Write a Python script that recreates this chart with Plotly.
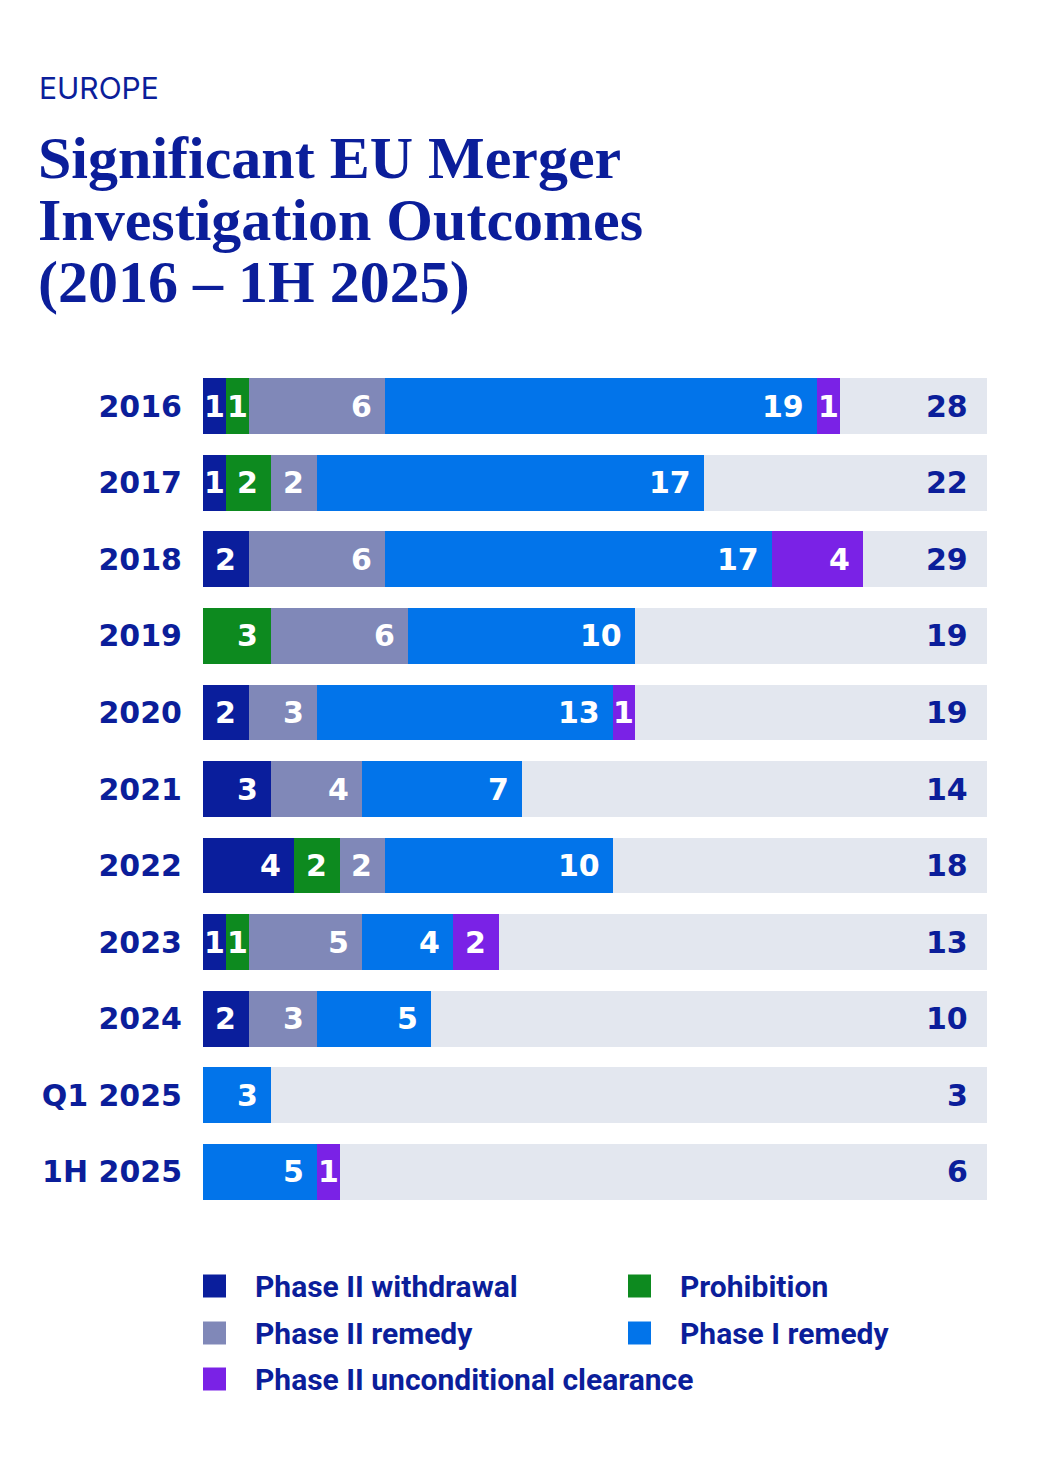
import plotly.graph_objects as go

# ---- data ----
years = ["2016", "2017", "2018", "2019", "2020", "2021", "2022", "2023", "2024", "Q1 2025", "1H 2025"]
series_names = ["Phase II withdrawal", "Prohibition", "Phase II remedy", "Phase I remedy",
                "Phase II unconditional clearance"]
withdrawal = [1, 1, 2, 0, 2, 3, 4, 1, 2, 0, 0]
prohibition = [1, 2, 0, 3, 0, 0, 2, 1, 0, 0, 0]
remedy_p2 = [6, 2, 6, 6, 3, 4, 2, 5, 3, 0, 0]
remedy_p1 = [19, 17, 17, 10, 13, 7, 10, 4, 5, 3, 5]
unconditional = [1, 0, 4, 0, 1, 0, 0, 2, 0, 0, 1]
totals = [28, 22, 29, 19, 19, 14, 18, 13, 10, 3, 6]

# ---- style ----
colors = ["#0a1e9c", "#0d8a1f", "#8088b8", "#0274ea", "#7a22e6"]
BG_GREY = "#e3e7ef"
NAVY = "#0b1e9a"
XMAX = 34.46
W, H = 1053, 1460
OFF = 8  # page body margin
L, R, T, B = 203 - OFF, 1053 - 987 + OFF, 368 - OFF, 1460 - 1210 + OFF
NUMFONT = "DejaVu Sans"
LEGFONT = "Roboto"

series = [withdrawal, prohibition, remedy_p2, remedy_p1, unconditional]
n = len(years)

fig = go.Figure()
for name, vals, col in zip(series_names, series, colors):
    fig.add_trace(go.Bar(
        y=years, x=vals, name=name, orientation="h",
        marker=dict(color=col, line=dict(width=0)),
        hoverinfo="x+name", showlegend=False,
    ))
# grey remainder to the full track width
fig.add_trace(go.Bar(
    y=years, x=[XMAX - t for t in totals], orientation="h",
    marker=dict(color=BG_GREY, line=dict(width=0)), showlegend=False, hoverinfo="skip",
))

annotations = []
# segment value labels (y given as category index)
for i in range(n):
    cum = 0
    for vals in series:
        v = vals[i]
        if v > 0:
            end = cum + v
            if v == 1:
                annotations.append(dict(x=cum + v / 2, y=i, xref="x", yref="y", text=str(v),
                                        showarrow=False, xanchor="center",
                                        font=dict(family=NUMFONT, size=30, color="white", weight="bold")))
            else:
                annotations.append(dict(x=end, y=i, xref="x", yref="y", text=str(v),
                                        showarrow=False, xanchor="right", xshift=-11,
                                        font=dict(family=NUMFONT, size=30, color="white", weight="bold")))
        cum += v
    annotations.append(dict(x=XMAX, y=i, xref="x", yref="y", text=str(totals[i]),
                            showarrow=False, xanchor="right", xshift=-17,
                            font=dict(family=NUMFONT, size=30, color=NAVY, weight="bold")))

plot_h = H - T - B
plot_w = W - L - R


def py(p):
    return (OFF + H - B - p) / plot_h


def pxx(p):
    return (p - OFF - L) / plot_w


annotations.append(dict(x=pxx(37), y=py(88), xref="paper", yref="paper", text="EUROPE",
                        showarrow=False, xanchor="left", yanchor="middle",
                        font=dict(family="Inter", size=30, color=NAVY)))
title_lines = ["Significant EU Merger", "Investigation Outcomes", "(2016 \u2013 1H 2025)"]
for k, line in enumerate(title_lines):
    annotations.append(dict(x=pxx(36), y=py(158 + 62 * k), xref="paper", yref="paper", text=line,
                            showarrow=False, xanchor="left", yanchor="middle",
                            font=dict(family="Liberation Serif", size=60, color=NAVY, weight="bold")))

# manual legend (two columns)
shapes = []
leg_cols_x = [203, 628]
leg_rows_y = [1286, 1333, 1379]
SQ = 23
for k, (name, col) in enumerate(zip(series_names, colors)):
    r, c = divmod(k, 2)
    x0 = leg_cols_x[c]
    yc = leg_rows_y[r]
    shapes.append(dict(type="rect", xref="paper", yref="paper",
                       x0=pxx(x0), x1=pxx(x0 + SQ), y0=py(yc + SQ / 2), y1=py(yc - SQ / 2),
                       fillcolor=col, line=dict(width=0)))
    annotations.append(dict(x=pxx(x0 + 50), y=py(yc), xref="paper", yref="paper", text=name,
                            showarrow=False, xanchor="left", yanchor="middle",
                            font=dict(family=LEGFONT, size=30, color=NAVY, weight="bold")))

fig.update_layout(
    width=W, height=H,
    margin=dict(l=L, r=R, t=T, b=B, autoexpand=False),
    paper_bgcolor="white", plot_bgcolor="white",
    barmode="stack", bargap=0.27,
    showlegend=False,
    xaxis=dict(range=[0, XMAX], visible=False, fixedrange=True),
    yaxis=dict(type="category", range=[n - 0.5, -0.5], showgrid=False, zeroline=False, showline=False,
               ticks="", ticklabelstandoff=20, fixedrange=True, automargin=False,
               tickfont=dict(family=NUMFONT, size=30, color=NAVY, weight="bold")),
    annotations=annotations,
    shapes=shapes,
)

fig.write_html("out.html")
